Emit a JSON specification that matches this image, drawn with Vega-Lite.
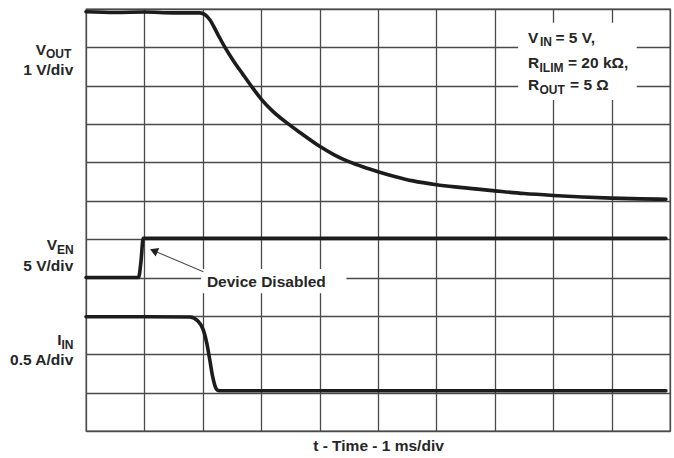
{
  "$schema": "https://vega.github.io/schema/vega-lite/v6.json",
  "width": 584,
  "height": 422,
  "autosize": {"type": "none"},
  "padding": {"left": 86, "top": 9, "right": 4, "bottom": 27},
  "background": "white",
  "config": {
    "view": {"stroke": "#4a4a4a", "strokeWidth": 1.3},
    "font": "Liberation Sans",
    "text": {"font": "Liberation Sans", "fontWeight": "bold", "color": "#262626"}
  },
  "datasets": {
    "traces": [
      {"trace": "VOUT", "t": 0.0, "div": 10.93},
      {"trace": "VOUT", "t": 0.5, "div": 10.91},
      {"trace": "VOUT", "t": 1.0, "div": 10.92},
      {"trace": "VOUT", "t": 1.5, "div": 10.9},
      {"trace": "VOUT", "t": 1.95, "div": 10.9},
      {"trace": "VOUT", "t": 2.04, "div": 10.85},
      {"trace": "VOUT", "t": 2.12, "div": 10.72},
      {"trace": "VOUT", "t": 2.25, "div": 10.36},
      {"trace": "VOUT", "t": 2.38, "div": 10.0},
      {"trace": "VOUT", "t": 2.52, "div": 9.66},
      {"trace": "VOUT", "t": 2.69, "div": 9.29},
      {"trace": "VOUT", "t": 2.85, "div": 8.95},
      {"trace": "VOUT", "t": 3.0, "div": 8.65},
      {"trace": "VOUT", "t": 3.2, "div": 8.33},
      {"trace": "VOUT", "t": 3.44, "div": 8.03},
      {"trace": "VOUT", "t": 3.7, "div": 7.74},
      {"trace": "VOUT", "t": 4.0, "div": 7.42},
      {"trace": "VOUT", "t": 4.25, "div": 7.2},
      {"trace": "VOUT", "t": 4.5, "div": 7.02},
      {"trace": "VOUT", "t": 4.75, "div": 6.88},
      {"trace": "VOUT", "t": 5.0, "div": 6.76},
      {"trace": "VOUT", "t": 5.3, "div": 6.63},
      {"trace": "VOUT", "t": 5.6, "div": 6.52},
      {"trace": "VOUT", "t": 6.0, "div": 6.42},
      {"trace": "VOUT", "t": 6.4, "div": 6.35},
      {"trace": "VOUT", "t": 7.0, "div": 6.26},
      {"trace": "VOUT", "t": 7.5, "div": 6.19},
      {"trace": "VOUT", "t": 8.0, "div": 6.14},
      {"trace": "VOUT", "t": 8.5, "div": 6.1},
      {"trace": "VOUT", "t": 9.0, "div": 6.07},
      {"trace": "VOUT", "t": 9.5, "div": 6.05},
      {"trace": "VOUT", "t": 9.93, "div": 6.04},
      {"trace": "VEN", "t": 0.0, "div": 4.0},
      {"trace": "VEN", "t": 0.9, "div": 4.0},
      {"trace": "VEN", "t": 0.94, "div": 4.4},
      {"trace": "VEN", "t": 0.98, "div": 5.02},
      {"trace": "VEN", "t": 9.93, "div": 5.02},
      {"trace": "IIN", "t": 0.0, "div": 2.98},
      {"trace": "IIN", "t": 1.0, "div": 2.98},
      {"trace": "IIN", "t": 1.78, "div": 2.97},
      {"trace": "IIN", "t": 1.92, "div": 2.86},
      {"trace": "IIN", "t": 2.01, "div": 2.63},
      {"trace": "IIN", "t": 2.07, "div": 2.28},
      {"trace": "IIN", "t": 2.12, "div": 1.85},
      {"trace": "IIN", "t": 2.17, "div": 1.41},
      {"trace": "IIN", "t": 2.23, "div": 1.1},
      {"trace": "IIN", "t": 2.28, "div": 1.05},
      {"trace": "IIN", "t": 9.93, "div": 1.05}
    ],
    "boxes": [
      {"t1": 7.4, "t2": 9.43, "d1": 8.63, "d2": 10.64},
      {"t1": 1.97, "t2": 4.46, "d1": 3.59, "d2": 4.22}
    ],
    "labels": [
      {"part": "mainR", "text": "V", "t": -0.685, "div": 9.81},
      {"part": "sub", "text": "OUT", "t": -0.685, "div": 9.81},
      {"part": "mainR", "text": "1 V/div", "t": -0.218, "div": 9.28},
      {"part": "mainR", "text": "V", "t": -0.497, "div": 4.71},
      {"part": "sub", "text": "EN", "t": -0.497, "div": 4.71},
      {"part": "mainR", "text": "5 V/div", "t": -0.218, "div": 4.18},
      {"part": "mainR", "text": "I", "t": -0.42, "div": 2.24},
      {"part": "sub", "text": "IN", "t": -0.42, "div": 2.24},
      {"part": "mainR", "text": "0.5 A/div", "t": -0.218, "div": 1.72},
      {"part": "mainL", "text": "V", "t": 7.568, "div": 10.115},
      {"part": "sub", "text": "IN", "t": 7.774, "div": 10.115},
      {"part": "mainL", "text": "= 5 V,", "t": 8.039, "div": 10.115},
      {"part": "mainL", "text": "R", "t": 7.568, "div": 9.462},
      {"part": "sub", "text": "ILIM", "t": 7.765, "div": 9.462},
      {"part": "mainL", "text": "= 20 kΩ,", "t": 8.253, "div": 9.462},
      {"part": "mainL", "text": "R", "t": 7.568, "div": 8.877},
      {"part": "sub", "text": "OUT", "t": 7.765, "div": 8.877},
      {"part": "mainL", "text": "= 5 Ω", "t": 8.288, "div": 8.877},
      {"part": "mainL", "text": "Device Disabled", "t": 2.07, "div": 3.744}
    ],
    "arrow": [
      {"t": 2.01, "div": 4.15},
      {"t": 1.16, "div": 4.7}
    ],
    "arrowhead": [
      {"t": 1.16, "div": 4.7}
    ]
  },
  "encoding": {
    "x": {
      "field": "t",
      "type": "quantitative",
      "scale": {"domain": [0, 10], "nice": false, "zero": false},
      "axis": {
        "values": [0, 1, 2, 3, 4, 5, 6, 7, 8, 9, 10],
        "grid": true,
        "gridColor": "#4a4a4a",
        "gridWidth": 1.3,
        "gridOpacity": 1,
        "labels": false,
        "ticks": false,
        "domain": false,
        "title": "t - Time - 1 ms/div",
        "titleFont": "Liberation Sans",
        "titleFontSize": 15.5,
        "titleFontWeight": "bold",
        "titleColor": "#262626",
        "titlePadding": 7
      }
    },
    "y": {
      "field": "div",
      "type": "quantitative",
      "scale": {"domain": [0, 11], "nice": false, "zero": false},
      "axis": {
        "values": [0, 1, 2, 3, 4, 5, 6, 7, 8, 9, 10, 11],
        "grid": true,
        "gridColor": "#4a4a4a",
        "gridWidth": 1.3,
        "gridOpacity": 1,
        "labels": false,
        "ticks": false,
        "domain": false,
        "title": null
      }
    }
  },
  "layer": [
    {
      "data": {"name": "boxes"},
      "mark": {"type": "rect", "fill": "white", "stroke": null},
      "encoding": {
        "x": {"field": "t1", "type": "quantitative"},
        "x2": {"field": "t2"},
        "y": {"field": "d1", "type": "quantitative"},
        "y2": {"field": "d2"}
      }
    },
    {
      "data": {"name": "arrow"},
      "mark": {"type": "line", "color": "#4d4d4d", "strokeWidth": 1.1},
      "encoding": {}
    },
    {
      "data": {"name": "arrowhead"},
      "mark": {"type": "point", "shape": "triangle-up", "filled": true, "color": "#222", "size": 85, "angle": 293, "opacity": 1},
      "encoding": {}
    },
    {
      "data": {"name": "traces"},
      "mark": {"type": "line", "color": "#1c1c1c", "strokeWidth": 3.6, "strokeCap": "round", "strokeJoin": "round", "interpolate": "monotone"},
      "encoding": {
        "detail": {"field": "trace", "type": "nominal"}
      }
    },
    {
      "data": {"name": "labels"},
      "transform": [{"filter": "datum.part === 'mainL'"}],
      "mark": {"type": "text", "align": "left", "baseline": "alphabetic", "fontSize": 15.5},
      "encoding": {"text": {"field": "text"}}
    },
    {
      "data": {"name": "labels"},
      "transform": [{"filter": "datum.part === 'mainR'"}],
      "mark": {"type": "text", "align": "right", "baseline": "alphabetic", "fontSize": 15.5},
      "encoding": {"text": {"field": "text"}}
    },
    {
      "data": {"name": "labels"},
      "transform": [{"filter": "datum.part === 'sub'"}],
      "mark": {"type": "text", "align": "left", "baseline": "alphabetic", "fontSize": 12, "dy": 3.5},
      "encoding": {"text": {"field": "text"}}
    }
  ]
}
